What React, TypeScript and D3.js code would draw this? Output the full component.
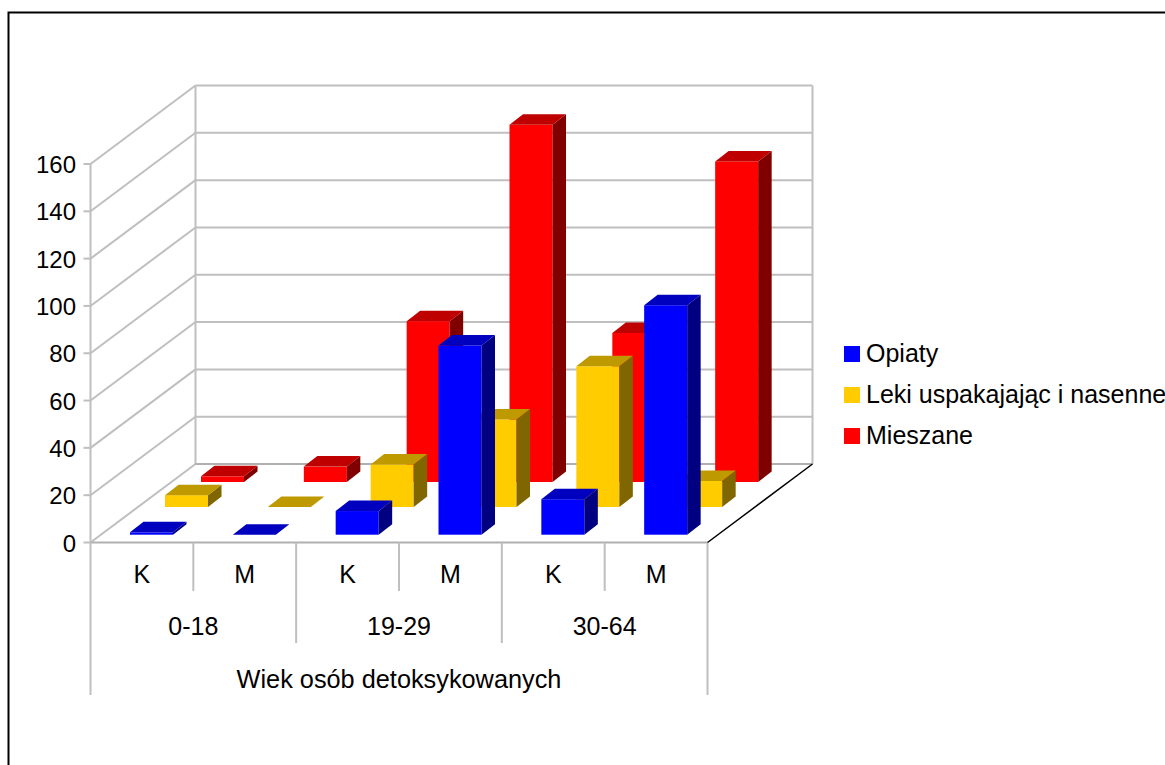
import React from "react";
import * as d3 from "d3";

const categories = ["K", "M", "K", "M", "K", "M"];
const groups = ["0-18", "19-29", "30-64"];
const seriesNames = ["Opiaty", "Leki uspakajając i nasenne", "Mieszane"];
const opiaty = [1, 0, 10, 80, 15, 97];
const leki = [5, 0, 18, 37, 59.5, 11];
const mieszane = [2.4, 6.5, 68, 151, 63, 135.5];
const ticks = [0, 20, 40, 60, 80, 100, 120, 140, 160];
const axisTitle = "Wiek osób detoksykowanych";

const palette = [
  { front: "#0000ff", top: "#0000bf", side: "#000080" },
  { front: "#ffcc00", top: "#bf9900", side: "#806600" },
  { front: "#ff0000", top: "#bf0000", side: "#800000" },
];

const FONT = "'Liberation Sans', Arial, sans-serif";
const FS = 25;
const GRID = "#bfbfbf";

const X0 = 90.5, X1 = 707.5, Y0 = 542.5, Y1 = 164;
const DX = 105, DY = 78.5;
const BAR_W = 43, BAR_DX = 13.5, BAR_DY = 10.5;

const xPos = d3.scaleLinear().domain([0, 6]).range([X0, X1]);
const yVal = d3.scaleLinear().domain([0, 160]).range([Y0, Y1]);
const rowX = d3.scaleLinear().domain([0, 1, 2]).range([39.5, 74.5, 110.5]);
const rowY = d3.scaleLinear().domain([0, 1, 2]).range([7.8, 35.5, 60.5]);
const poly = d3.line<[number, number]>().x((d) => d[0]).y((d) => d[1]);
const closed = (pts: [number, number][]) => poly(pts) + "Z";

function Bar({ cat, row, value }: { cat: number; row: number; value: number }) {
  const c = palette[row];
  const x = xPos(cat) + rowX(row);
  const b = Y0 - rowY(row);
  const h = Y0 - yVal(value);
  const t = b - h;
  const r = x + BAR_W;
  return (
    <g>
      {h > 0 && <rect x={x} y={t} width={BAR_W} height={h} fill={c.front} />}
      {h > 0 && (
        <path
          d={closed([[r, t], [r + BAR_DX, t - BAR_DY], [r + BAR_DX, b - BAR_DY], [r, b]])}
          fill={c.side}
        />
      )}
      <path
        d={closed([[x, t], [x + BAR_DX, t - BAR_DY], [r + BAR_DX, t - BAR_DY], [r, t]])}
        fill={c.top}
      />
    </g>
  );
}

export default function App() {
  const rows = [opiaty, leki, mieszane];
  return (
    <svg
      width={1165}
      height={765}
      style={{ position: "absolute", left: 0, top: 0, display: "block", background: "#fff" }}
      fontFamily={FONT}
      fontSize={FS}
      fill="#000"
    >
      <rect x={8.5} y={12.5} width={1200} height={800} fill="#fff" stroke="#000" strokeWidth={2} />

      {/* walls */}
      <g stroke={GRID} strokeWidth={2} fill="none">
        {ticks.map((t) => {
          const y = yVal(t);
          return (
            <g key={t}>
              <line x1={X0 + DX} x2={X1 + DX} y1={y - DY} y2={y - DY} />
              <line x1={X0} x2={X0 + DX} y1={y} y2={y - DY} />
              <line x1={X0 - 7} x2={X0} y1={y} y2={y} />
            </g>
          );
        })}
        <line x1={X0 + DX} x2={X0 + DX} y1={Y1 - DY} y2={Y0 - DY} />
        <line x1={X1 + DX} x2={X1 + DX} y1={Y1 - DY} y2={Y0 - DY} />
        <line x1={X0 + DX} x2={X1 + DX} y1={Y0 - DY} y2={Y0 - DY} stroke="#b0b0b0" />
        <line x1={X0} x2={X1} y1={Y0} y2={Y0} stroke="#b0b0b0" />
        <line x1={X0} x2={X0} y1={Y1} y2={695} />
        <line x1={X1} x2={X1} y1={Y0} y2={695} />
        {categories.map((_, i) =>
          i === 0 ? null : (
            <line
              key={i}
              x1={xPos(i)}
              x2={xPos(i)}
              y1={Y0}
              y2={i % 2 === 0 ? 643 : 591}
            />
          )
        )}
      </g>
      <line x1={X1} y1={Y0} x2={X1 + DX} y2={Y0 - DY} stroke="#000" strokeWidth={1.5} />

      {/* bars, back row first */}
      {[2, 1, 0].map((row) =>
        rows[row].map((v, i) => <Bar key={row + "-" + i} cat={i} row={row} value={v} />)
      )}

      {/* value axis labels */}
      {ticks.map((t) => (
        <text key={t} x={76} y={yVal(t) + 9} textAnchor="end" fontSize={24}>
          {t}
        </text>
      ))}

      {/* category labels */}
      {categories.map((c, i) => (
        <text key={i} x={xPos(i + 0.5)} y={583} textAnchor="middle">
          {c}
        </text>
      ))}
      {groups.map((g, i) => (
        <text key={g} x={xPos(i * 2 + 1)} y={635} textAnchor="middle">
          {g}
        </text>
      ))}
      <text x={xPos(3)} y={688} textAnchor="middle" fontSize={25.3}>
        {axisTitle}
      </text>

      {/* legend */}
      {seriesNames.map((s, i) => (
        <g key={s}>
          <rect x={844} y={346 + i * 41} width={16} height={16} fill={palette[i].front} />
          <text x={866} y={361.5 + i * 41}>
            {s}
          </text>
        </g>
      ))}
    </svg>
  );
}
